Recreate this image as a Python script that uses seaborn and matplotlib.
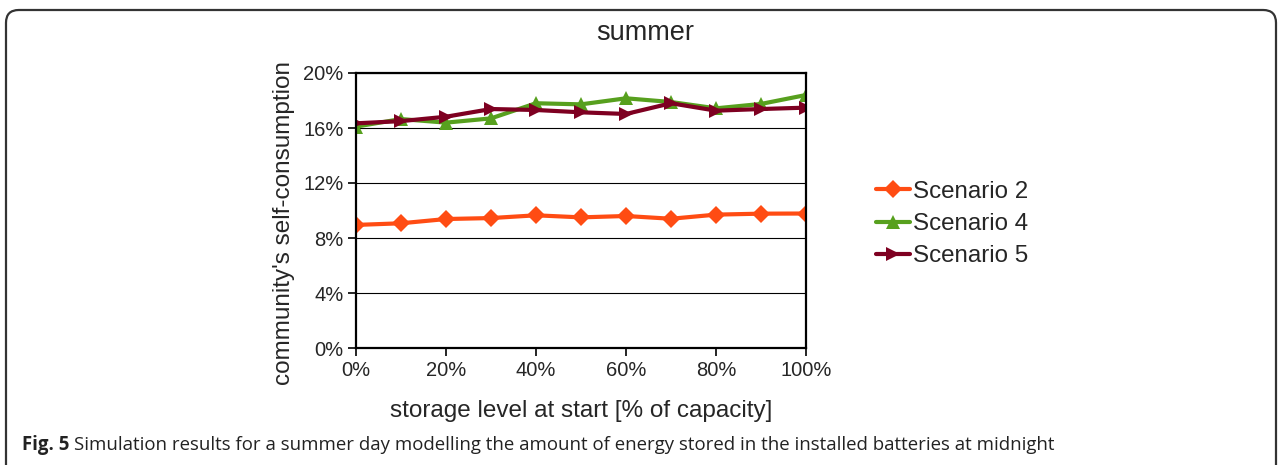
import numpy as np
import pandas as pd
import matplotlib.pyplot as plt
import seaborn as sns
from matplotlib.patches import FancyBboxPatch
from matplotlib.ticker import PercentFormatter

# storage level at start [% of capacity]
storage = [0, 10, 20, 30, 40, 50, 60, 70, 80, 90, 100]
# community's self-consumption [%]
scenario_2 = [8.95, 9.07, 9.38, 9.45, 9.65, 9.50, 9.60, 9.40, 9.70, 9.77, 9.78]
scenario_4 = [16.1, 16.65, 16.39, 16.7, 17.8, 17.72, 18.16, 17.89, 17.43, 17.75, 18.4]
scenario_5 = [16.34, 16.5, 16.82, 17.38, 17.31, 17.14, 17.02, 17.8, 17.26, 17.38, 17.48]

series_names = ['Scenario 2', 'Scenario 4', 'Scenario 5']
series_colors = ['#ff4c13', '#57a01e', '#7e0021']
series_markers = ['D', '^', '>']

df = pd.DataFrame({'storage': storage * 3,
                   'value': scenario_2 + scenario_4 + scenario_5,
                   'scenario': np.repeat(series_names, len(storage))})

sns.set_style('white')
plt.rcParams['font.family'] = ['Liberation Sans', 'DejaVu Sans']

W, H = 1282, 465
fig = plt.figure(figsize=(W / 100, H / 100), dpi=100)

# rounded frame around figure + caption (bottom edge off the image)
frame = FancyBboxPatch((6 / W, -0.1), 1270 / W, (H - 10) / H + 0.1,
                       boxstyle='round,pad=0,rounding_size=0.01',
                       transform=fig.transFigure, fill=False,
                       edgecolor='#333333', linewidth=1.6, mutation_aspect=W / H)
fig.patches.append(frame)

ax = fig.add_axes([356 / W, 1 - 348 / H, 450 / W, 275 / H])

sns.lineplot(data=df, x='storage', y='value', hue='scenario', style='scenario',
             palette=series_colors, markers=series_markers, dashes=False,
             linewidth=3, markersize=9.5, markeredgewidth=0, ax=ax, legend=False)

ax.set_xlim(0, 100)
ax.set_ylim(0, 20)
ax.set_xticks(range(0, 101, 20))
ax.set_yticks(range(0, 21, 4))
ax.xaxis.set_major_formatter(PercentFormatter(decimals=0))
ax.yaxis.set_major_formatter(PercentFormatter(decimals=0))
ax.grid(axis='y', color='black', linewidth=0.8)
ax.set_axisbelow(True)
for s in ax.spines.values():
    s.set_color('black')
    s.set_linewidth(1.6)
ax.tick_params(axis='both', direction='out', length=6, width=1.2, color='black',
               labelsize=14.5, pad=3, bottom=True, left=True)

ax.set_xlabel('storage level at start [% of capacity]', fontsize=17.5, labelpad=15)
ax.set_ylabel("community's self-consumption", fontsize=17.5)
ax.yaxis.set_label_coords(-0.135, 0.455)

fig.text(645 / W, 1 - 33 / H, 'summer', fontsize=19.5, ha='center', va='center')

handles = [plt.Line2D([], [], color=c, marker=m, linewidth=3, markersize=9.5, markeredgewidth=0)
           for c, m in zip(series_colors, series_markers)]
fig.legend(handles, series_names, loc='center left', bbox_to_anchor=(864 / W, 1 - 224 / H),
           frameon=False, fontsize=17.4, handlelength=1.4, handletextpad=0.12,
           labelspacing=0.42, borderpad=0)

cap_y = 1 - 445 / H
t1 = fig.text(22 / W, cap_y, 'Fig. 5', fontsize=13.45, weight='bold', va='center', ha='left',
              family='Open Sans', color='#222222')
fig.canvas.draw()
bb = t1.get_window_extent()
fig.text((bb.x1 + 5) / W, cap_y,
         'Simulation results for a summer day modelling the amount of energy stored in the installed batteries at midnight',
         fontsize=13.45, va='center', ha='left', family='Open Sans', color='#222222')

fig.savefig('out.png', dpi=100)
